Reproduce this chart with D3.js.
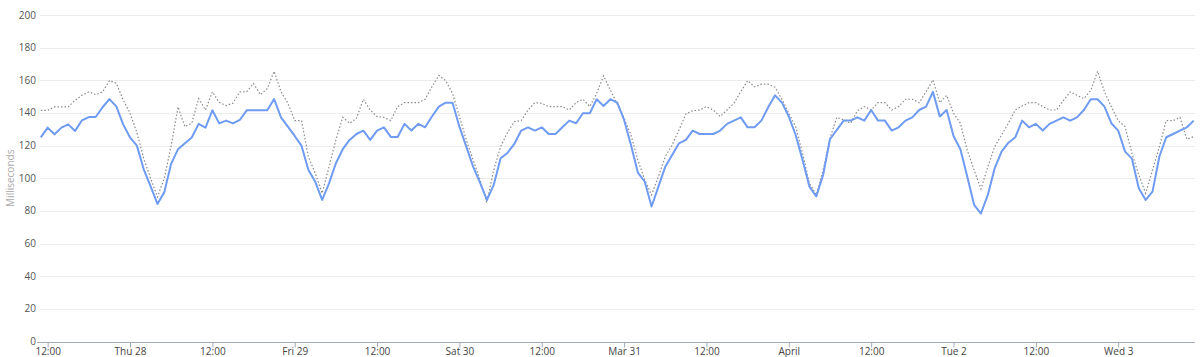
<!DOCTYPE html>
<html>
<head>
<meta charset="utf-8">
<script src="https://cdn.jsdelivr.net/npm/d3@7"></script>
<style>
  html, body { margin: 0; padding: 0; background: #fff; }
  svg { display: block; font-family: "Open Sans", "Noto Sans", sans-serif; }
</style>
</head>
<body>
<svg id="chart" width="1200" height="357"></svg>
<script>
// Hourly samples starting Wed 27 Mar 2019 11:00 (UTC used for layout)
const startTime = Date.UTC(2019, 2, 27, 11);

const currentSeries = [
  125,131,127,131,133,129,135.5,137.5,137.5,143.5,148.5,144,133,125,120,105.5,95,84.3,91.5,109,117.8,121.5,125,133.3,
  131,141.6,133.6,135.3,133.6,135.7,141.6,141.6,141.6,141.6,148.5,137.3,131.6,125.9,119.8,105,97.8,86.7,96.9,109.2,117.8,123.5,127.1,129.2,
  123.5,129.2,131.2,125.3,125.3,133.3,129.2,133.3,131.2,137.8,143.9,146.3,146.3,131.6,119.4,107.1,97.3,86.7,95.9,112.2,115.5,121,
  129.2,131.2,129.2,131.2,127.1,127.1,131.2,135.3,133.7,139.8,139.8,148.4,144.3,148.4,146.3,135.7,120.4,103.5,98,82.7,94.9,107.1,114.3,121.4,
  123.5,129.2,127.1,127.1,127.1,129.2,133.3,135.3,137.3,131.2,131.2,135.3,143.5,150.8,146.3,137.8,126.5,111.2,94.9,88.8,102,123.9,129.6,135.3,
  135.3,137.3,135.3,141.8,135.3,135.3,129.2,131.2,135.3,137.3,141.8,143.9,152.9,137.8,141.8,125.9,117.8,101,83.7,78.4,89.8,106.1,116.3,121.8,
  125.1,135.3,131.2,133.3,129.2,133.3,135.3,137.3,135.3,137.3,141.8,148.4,148.4,143.9,133.7,129.2,116.3,112,93.9,86.7,91.8,113.3,125.1,127.1,
  129.2,131.2,135.3
];

const previousSeries = [
  141.6,141.6,143.7,143.7,143.7,147.8,150.8,152.9,151.2,152.9,159.8,158.2,148,140,128,112,100,88.5,100,120,143.7,131.6,133.7,148.8,
  141.8,152.9,146.5,144.5,146,152.9,153,158,151.2,154.9,165.5,153,146,135.3,135.3,113,103,90.8,107,123.5,137.3,133.7,136.7,148.4,
  141.8,137.8,137.3,135.3,143.9,146.3,146.3,146.3,148.4,156,163,159.8,152,137.8,123.5,111.2,99,85.1,105,119.4,128,134.7,
  135.3,141.8,146.3,145.9,143.9,143.9,143.9,141.8,146.3,148.4,143.9,152,162.7,154,145.5,136.7,126.5,111.2,99,89.8,101,113.3,120.4,129.6,
  139.4,141.4,141.8,143.9,141.8,137.8,141.8,145.9,153,159.8,156,157.6,157.6,155.7,148.4,139.8,131.6,115.3,96.9,89.8,105,124.5,137.3,135.7,
  133.7,141.4,143.9,141.8,146.3,146.3,141.8,143.9,148.4,148.4,146.3,152.9,160.2,146.3,150.8,139.8,133.7,117.3,105,93.4,107,119.4,126.5,133.7,
  141.8,144.3,146.3,146.3,143.9,141.8,141.8,147.6,152.9,150.8,148.8,153.7,165.5,152.9,143.9,135.3,131.6,115.3,102,90.8,105,119.4,135.3,135.3,
  137.3,123.9,125.5
];

const yTicks = [0, 20, 40, 60, 80, 100, 120, 140, 160, 180, 200];
const xTickTimes = [
  Date.UTC(2019,2,27,12), Date.UTC(2019,2,28,0), Date.UTC(2019,2,28,12), Date.UTC(2019,2,29,0),
  Date.UTC(2019,2,29,12), Date.UTC(2019,2,30,0), Date.UTC(2019,2,30,12), Date.UTC(2019,2,31,0),
  Date.UTC(2019,2,31,12), Date.UTC(2019,3,1,0), Date.UTC(2019,3,1,12), Date.UTC(2019,3,2,0),
  Date.UTC(2019,3,2,12), Date.UTC(2019,3,3,0)
];
const xTickLabels = ["12:00","Thu 28","12:00","Fri 29","12:00","Sat 30","12:00","Mar 31","12:00","April","12:00","Tue 2","12:00","Wed 3"];
const yTitle = "Milliseconds";

const nPoints = Math.max(currentSeries.length, previousSeries.length);
const times = d3.range(nPoints).map(i => d3.utcHour.offset(new Date(startTime), i));

const svg = d3.select("#chart");
const plotLeft = 40, plotRight = 1195, plotTop = 15, plotBottom = 341.5;

const x = d3.scaleUtc()
  .domain([times[0], times[times.length - 1]])
  .range([40.8, 1193.7]);
const y = d3.scaleLinear().domain([0, 200]).range([plotBottom, plotTop]);

// grid
svg.append("g")
  .selectAll("line")
  .data(yTicks.filter(d => d > 0))
  .join("line")
  .attr("x1", plotLeft).attr("x2", plotRight)
  .attr("y1", d => Math.round(y(d)) + 0.5).attr("y2", d => Math.round(y(d)) + 0.5)
  .attr("stroke", "#ececec").attr("stroke-width", 1);

// y labels
svg.append("g")
  .selectAll("text")
  .data(yTicks)
  .join("text")
  .attr("x", 36)
  .attr("y", d => y(d) + 3.5)
  .attr("text-anchor", "end")
  .attr("font-size", 10)
  .attr("fill", "#555")
  .text(d => d);

// y title
svg.append("text")
  .attr("transform", `translate(14,${(plotTop + plotBottom) / 2}) rotate(-90)`)
  .attr("text-anchor", "middle")
  .attr("font-size", 10)
  .attr("fill", "#aaa")
  .text(yTitle);

// x axis
const xAxis = d3.axisBottom(x)
  .tickValues(xTickTimes.map(t => new Date(t)))
  .tickFormat((d, i) => xTickLabels[i])
  .tickSize(5)
  .tickPadding(2)
  .tickSizeOuter(0);

const gx = svg.append("g")
  .attr("transform", `translate(0,${Math.round(plotBottom) + 0.5})`)
  .call(xAxis);
gx.select(".domain").remove();
gx.append("line").attr("x1", 37).attr("x2", plotRight).attr("stroke", "#a3abba").attr("stroke-width", 1.2);
gx.selectAll(".tick line").attr("stroke", "#a3abba");
gx.selectAll(".tick text")
  .attr("font-size", 10)
  .attr("font-family", "\"Open Sans\", \"Noto Sans\", sans-serif")
  .attr("fill", "#444")
  .attr("dy", "0.5em");

const line = d3.line()
  .x((d, i) => x(times[i]))
  .y(d => y(d));

svg.append("path")
  .datum(previousSeries)
  .attr("fill", "none")
  .attr("stroke", "#8a8a8a")
  .attr("stroke-width", 1.2)
  .attr("stroke-dasharray", "1.5,2")
  .attr("d", line);

svg.append("path")
  .datum(currentSeries)
  .attr("fill", "none")
  .attr("stroke", "#6f9bf2")
  .attr("stroke-width", 2)
  .attr("stroke-linejoin", "round")
  .attr("d", line);
</script>
</body>
</html>
